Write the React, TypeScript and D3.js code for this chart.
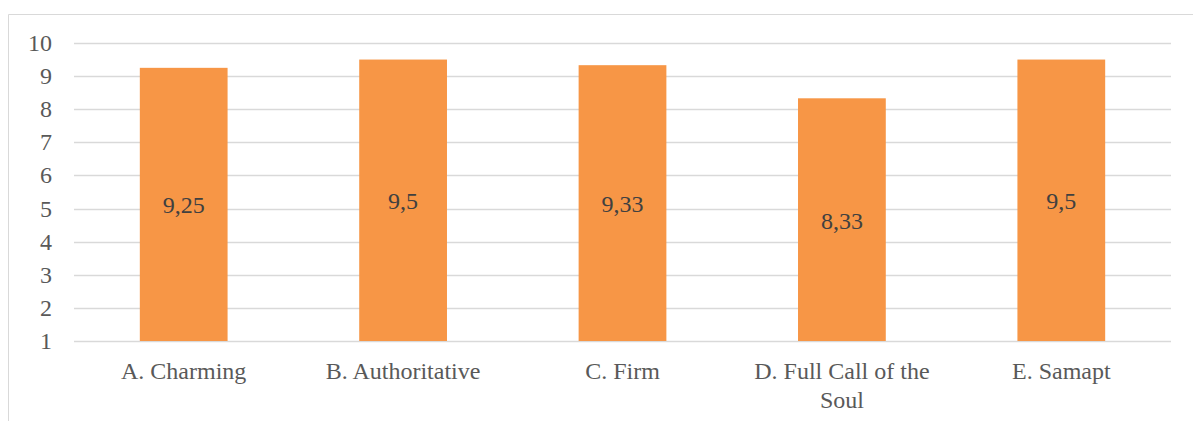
import * as d3 from "d3";
import { useEffect, useRef } from "react";

const categories = [
  "A. Charming",
  "B. Authoritative",
  "C. Firm",
  "D. Full Call of the Soul",
  "E. Samapt",
];
const values = [9.25, 9.5, 9.33, 8.33, 9.5];
const valueLabels = ["9,25", "9,5", "9,33", "8,33", "9,5"];
const yTicks = [1, 2, 3, 4, 5, 6, 7, 8, 9, 10];

const W = 1193;
const H = 421;
const FONT = "'Liberation Serif', 'Times New Roman', serif";
const FONT_SIZE = "24px";
const TEXT = "#595959";
const GRID = "#d9d9d9";
const BAR = "#F79646";

// Excel-style wrapping for the category labels (max width ~ band width)
const wrap = (label: string, maxW: number, charW: number) => {
  const words = label.split(" ");
  const lines: string[] = [];
  let cur = "";
  for (const w of words) {
    const next = cur ? `${cur} ${w}` : w;
    if (next.length * charW > maxW && cur) {
      lines.push(cur);
      cur = w;
    } else cur = next;
  }
  if (cur) lines.push(cur);
  return lines;
};

const App = () => {
  const svgRef = useRef<SVGSVGElement>(null);

  useEffect(() => {
    const svgEl = svgRef.current;
    if (!svgEl) return;
    const svg = d3.select(svgEl);
    svg.selectAll("*").remove();

    const x = d3
      .scaleBand<string>()
      .domain(categories)
      .range([74, 1171])
      .paddingInner(0.6)
      .paddingOuter(0.3);
    const y = d3.scaleLinear().domain([1, 10]).range([341, 43]);

    // chart area border (top + left visible)
    svg
      .append("path")
      .attr("d", `M8.5,${H} V14.5 H${W}`)
      .attr("fill", "none")
      .attr("stroke", GRID)
      .attr("stroke-width", 1);

    svg
      .selectAll("line.grid")
      .data(yTicks)
      .enter()
      .append("line")
      .attr("x1", 74)
      .attr("x2", 1171)
      .attr("y1", (t) => Math.round(y(t)) + 0.5)
      .attr("y2", (t) => Math.round(y(t)) + 0.5)
      .attr("stroke", GRID)
      .attr("stroke-width", 1.5);

    svg
      .selectAll("text.tick-y")
      .data(yTicks)
      .enter()
      .append("text")
      .attr("x", 52)
      .attr("y", (t) => y(t))
      .attr("text-anchor", "end")
      .attr("dominant-baseline", "central")
      .attr("fill", TEXT)
      .style("font-family", FONT)
      .style("font-size", FONT_SIZE)
      .text((t) => String(t));

    const data = categories.map((c, i) => ({
      c,
      v: values[i],
      label: valueLabels[i],
    }));

    svg
      .selectAll("rect.bar")
      .data(data)
      .enter()
      .append("rect")
      .attr("x", (d) => x(d.c)!)
      .attr("width", x.bandwidth())
      .attr("y", (d) => y(d.v))
      .attr("height", (d) => y(1) - y(d.v))
      .attr("fill", BAR);

    svg
      .selectAll("text.value")
      .data(data)
      .enter()
      .append("text")
      .attr("x", (d) => x(d.c)! + x.bandwidth() / 2)
      .attr("y", (d) => (y(d.v) + y(1)) / 2 + 1)
      .attr("text-anchor", "middle")
      .attr("dominant-baseline", "central")
      .attr("fill", "#404040")
      .style("font-family", FONT)
      .style("font-size", FONT_SIZE)
      .text((d) => d.label);

    const cat = svg
      .selectAll("text.cat")
      .data(data)
      .enter()
      .append("text")
      .attr("text-anchor", "middle")
      .attr("fill", TEXT)
      .style("font-family", FONT)
      .style("font-size", FONT_SIZE);
    cat.each(function (d) {
      const lines = wrap(d.c, 210, 10.5);
      d3.select(this)
        .selectAll("tspan")
        .data(lines)
        .enter()
        .append("tspan")
        .attr("x", x(d.c)! + x.bandwidth() / 2)
        .attr("y", (_, i) => 379 + i * 29)
        .text((l) => l);
    });
  }, []);

  return (
    <div style={{ position: "fixed", left: 0, top: 0 }}>
      <svg ref={svgRef} width={W} height={H} style={{ display: "block", background: "#fff" }} />
    </div>
  );
};

export default App;
